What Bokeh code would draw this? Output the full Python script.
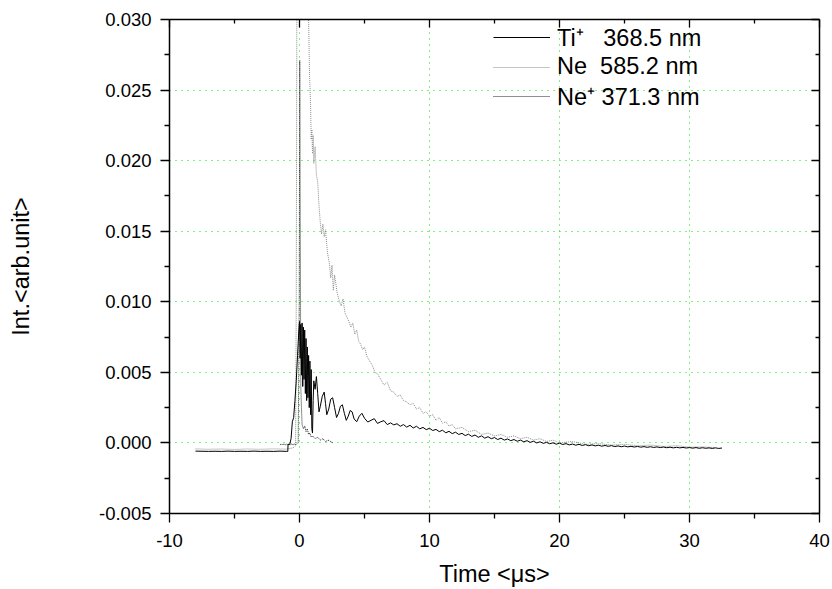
from bokeh.plotting import figure
from bokeh.models import (Range1d, FixedTicker, NumeralTickFormatter, LinearAxis,
                          CustomJSTickFormatter, Legend, LegendItem)
from bokeh.embed import file_html
from bokeh.resources import INLINE

# ---------------- data ----------------
x_ticks = [-10, 0, 10, 20, 30, 40]
x_minor = [-5, 5, 15, 25, 35]
y_ticks = [-0.005, 0.0, 0.005, 0.010, 0.015, 0.020, 0.025, 0.030]
y_minor = [-0.0025, 0.0025, 0.0075, 0.0125, 0.0175, 0.0225, 0.0275]

x_label = "Time <μs>"
y_label = "Int.<arb.unit>"
series_labels = ["Ti⁺\u00a0\u00a0\u00a0368.5 nm", "Ne\u00a0\u00a0585.2 nm", "Ne⁺\u00a0371.3 nm"]

ti_t = [-8.0, -7.0, -6.5, -6.0, -5.5, -5.0, -4.5, -4.0, -3.5, -3.0, -2.5, -2.0, -1.5, -1.0,
        -0.9, -0.88, -0.75, -0.65, -0.55, -0.45, -0.35, -0.25, -0.15, -0.05, 0.0, 0.05,
        0.1, 0.15, 0.2, 0.25, 0.3, 0.35, 0.4, 0.45, 0.5, 0.55, 0.6, 0.65, 0.7, 0.75, 0.8,
        0.85, 0.9, 0.95, 1.0, 1.05, 1.1, 1.2, 1.3, 1.4, 1.5, 1.6, 1.75, 1.9, 2.0, 2.1,
        2.25, 2.4, 2.55, 2.7, 2.85, 3.0, 3.15, 3.3, 3.45, 3.6, 3.75, 3.9, 4.05, 4.2, 4.4,
        4.6, 4.8,
        5.0, 5.25, 5.5, 5.75, 6.0, 6.25, 6.5, 6.75, 7.0, 7.25, 7.5, 7.75, 8.0, 8.25, 8.5,
        8.75, 9.0, 9.25, 9.5, 9.75, 10.0, 10.25, 10.5, 10.75, 11.0, 11.25, 11.5, 11.75,
        12.0, 12.25, 12.5, 12.75, 13.0, 13.25, 13.5, 13.75, 14.0, 14.25, 14.5, 14.75,
        15.0, 15.25, 15.5, 15.75, 16.0, 16.25, 16.5, 16.75, 17.0, 17.25, 17.5, 17.75,
        18.0, 18.25, 18.5, 18.75, 19.0, 19.25, 19.5, 19.75, 20.0, 20.25, 20.5, 20.75,
        21.0, 21.25, 21.5, 21.75, 22.0, 22.25, 22.5, 22.75, 23.0, 23.25, 23.5, 23.75,
        24.0, 24.25, 24.5, 24.75, 25.0, 25.25, 25.5, 25.75, 26.0, 26.25, 26.5, 26.75,
        27.0, 27.25, 27.5, 27.75, 28.0, 28.25, 28.5, 28.75, 29.0, 29.25, 29.5, 29.75,
        30.0, 30.25, 30.5, 30.75, 31.0, 31.25, 31.5, 31.75, 32.0, 32.25, 32.5]
ti_y = [-0.00058, -0.0006, -0.00059, -0.0006, -0.00058, -0.0006, -0.00059, -0.0006,
        -0.00058, -0.0006, -0.00059, -0.0006, -0.00058, -0.0006,
        -0.0006, -0.0001, -0.0001, 0.0003, 0.0015, 0.0018, 0.0030, 0.0044, 0.0062, 0.0080,
        0.0086, 0.0060, 0.0084, 0.0048, 0.0085, 0.0040, 0.0082, 0.0045, 0.0080, 0.0035,
        0.0074, 0.0030, 0.0068, 0.0032, 0.0062, 0.0025, 0.0058, 0.0020, 0.0052, 0.0010,
        0.0007, 0.0030, 0.0044, 0.0038, 0.0047, 0.0035, 0.0022, 0.0026, 0.0033, 0.0036,
        0.0028, 0.0020, 0.0024, 0.0031, 0.0032, 0.0025, 0.0018, 0.0021, 0.0026, 0.0027,
        0.0021, 0.0016, 0.0019, 0.0023, 0.0022, 0.0017, 0.0015, 0.0019, 0.0021,
        0.00175, 0.00148, 0.00160, 0.00172, 0.00138, 0.00150, 0.00158, 0.00130, 0.00142,
        0.00128, 0.00136, 0.00118, 0.00130, 0.00112, 0.00125, 0.00106, 0.00118, 0.00100,
        0.00110, 0.00094, 0.00104, 0.00088, 0.00096, 0.00080, 0.00090, 0.00072, 0.00082,
        0.00066, 0.00076, 0.00060, 0.00068, 0.00052, 0.00062, 0.00046, 0.00056, 0.00040,
        0.00050, 0.00034, 0.00044, 0.00030, 0.00038, 0.00024, 0.00034, 0.00020, 0.00028,
        0.00016, 0.00024, 0.00012, 0.00020, 0.00008, 0.00016, 0.00004, 0.00012, 0.00000,
        0.00008, -0.00003, 0.00004, -0.00006, 0.00001, -0.00009, -0.00002, -0.00011,
        -0.00005, -0.00014, -0.00008, -0.00016, -0.00010, -0.00018, -0.00012, -0.00020,
        -0.00014, -0.00021, -0.00016, -0.00023, -0.00018, -0.00024, -0.00019, -0.00026,
        -0.00021, -0.00027, -0.00022, -0.00028, -0.00024, -0.00029, -0.00025, -0.00030,
        -0.00026, -0.00031, -0.00027, -0.00032, -0.00028, -0.00033, -0.00029, -0.00034,
        -0.00030, -0.00035, -0.00031, -0.00035, -0.00032, -0.00036, -0.00033, -0.00037,
        -0.00033, -0.00038, -0.00034, -0.00038, -0.00035, -0.00039, -0.00035, -0.00039,
        -0.00036]

ne_t = [-8.0, -7.0, -6.0, -5.0, -4.0, -3.0, -2.0, -1.0, -0.5, -0.3, -0.25, -0.2, 0.0, 0.3,
        0.6, 0.7, 0.77, 0.85, 0.9, 0.95, 1.0, 1.05, 1.1, 1.2, 1.3, 1.4, 1.5, 1.6, 1.7, 1.8,
        1.9, 2.0, 2.15, 2.3, 2.4, 2.5, 2.6, 2.7, 2.9, 3.05, 3.2, 3.35, 3.5, 3.65, 3.8, 3.95,
        4.1, 4.25, 4.4, 4.55, 4.7, 4.85, 5.0, 5.2, 5.4, 5.6, 5.8, 6.0, 6.25, 6.5, 6.75, 7.0,
        7.25, 7.5, 7.75, 8.0, 8.25, 8.5, 8.75, 9.0, 9.25, 9.5, 9.75, 10.0, 10.25, 10.5,
        10.75, 11.0, 11.25, 11.5, 11.75, 12.0, 12.5, 13.0, 13.5, 14.0, 14.5, 15.0, 15.5,
        16.0, 16.5, 17.0, 17.5, 18.0, 18.5, 19.0, 19.5, 20.0, 21.0, 22.0, 23.0, 24.0, 25.0,
        26.0, 27.0, 28.0, 29.0, 30.0, 31.0, 32.0]
ne_y = [-0.00042, -0.00045, -0.00043, -0.00046, -0.00043, -0.00045, -0.00042, -0.00044,
        -0.00035, -0.00020, 0.0100, 0.0320, 0.0360, 0.0380, 0.0330, 0.0300, 0.0262, 0.0240,
        0.0215, 0.0222, 0.0205, 0.0218, 0.0198, 0.0210, 0.0190, 0.0185, 0.0168, 0.0156,
        0.0148, 0.0155, 0.0146, 0.0151, 0.0135, 0.0127, 0.0117, 0.0126, 0.0108, 0.0119,
        0.0106, 0.0101, 0.0097, 0.0102, 0.0092, 0.0089, 0.0086, 0.0082, 0.0085, 0.0077,
        0.0080, 0.0072, 0.0070, 0.0066, 0.0068, 0.0061, 0.0058, 0.0055, 0.0050, 0.0049,
        0.0045, 0.0041, 0.0043, 0.0037, 0.0036, 0.0033, 0.0034, 0.0030, 0.0029, 0.0027,
        0.0028, 0.0024, 0.0025, 0.0021, 0.0022, 0.0019, 0.0020, 0.0016, 0.0018, 0.0014,
        0.0015, 0.0012, 0.0013, 0.0010, 0.0011, 0.0008, 0.0009, 0.0006, 0.0007, 0.0005,
        0.0006, 0.0004, 0.0005, 0.0003, 0.0004, 0.0002, 0.0003, 0.0001, 0.0002, 0.0000,
        0.0001, -0.0001, -0.00005, -0.00015, -0.0001, -0.0002, -0.00015, -0.00025, -0.0002,
        -0.0003, -0.00028, -0.00033]

nep_t = [-1.5, -1.4, -1.3, -1.2, -1.1, -1.0, -0.9, -0.8, -0.7, -0.6, -0.5, -0.4, -0.3,
         -0.2, -0.1, -0.02, 0.02, 0.06, 0.1, 0.15, 0.2, 0.3, 0.4, 0.5, 0.6, 0.7, 0.8, 0.9,
         1.0, 1.2, 1.4, 1.6, 1.8, 2.0, 2.2, 2.4, 2.6]
nep_y = [-0.00015, -0.00006, -0.00016, -0.00005, -0.00015, -0.00006, -0.00016, -0.00005,
         -0.00015, -0.00006, -0.00016, -0.00005, -0.00015, -0.00006, 0.0000, 0.0100,
         0.0271, 0.0150, 0.0040, 0.0025, 0.0013, 0.0010, 0.0012, 0.0008, 0.0010, 0.0006,
         0.0007, 0.0004, 0.0005, 0.0003, 0.0004, 0.0002, 0.0003, 0.0001, 0.0002, 0.0001,
         0.0000]

# ---------------- styling ----------------
FONT = "Liberation Sans"
GRID_COLOR = "#00e000"

p = figure(width=832, height=589, output_backend="svg", toolbar_location=None,
           x_range=Range1d(-10, 40), y_range=Range1d(-0.005, 0.030),
           min_border_left=169, min_border_right=13, min_border_top=19,
           min_border_bottom=73)
p.outline_line_color = None
p.background_fill_color = "white"
p.border_fill_color = "white"

xticker = FixedTicker(ticks=x_ticks, minor_ticks=x_minor)
yticker = FixedTicker(ticks=y_ticks, minor_ticks=y_minor)

for g, t in ((p.xgrid, xticker), (p.ygrid, yticker)):
    g.ticker = t
    g.grid_line_color = GRID_COLOR
    g.grid_line_dash = "1 5"
    g.grid_line_width = 1

def style_main(ax, ticker):
    ax.ticker = ticker
    ax.axis_line_width = 1.5
    ax.axis_line_color = "black"
    ax.major_tick_in = 0
    ax.major_tick_out = 9
    ax.minor_tick_in = 0
    ax.minor_tick_out = 5
    ax.major_tick_line_width = 1.3
    ax.minor_tick_line_width = 1.3
    ax.major_label_text_font = FONT
    ax.major_label_text_font_size = "18.5px"
    ax.major_label_text_color = "black"
    ax.axis_label_text_font = FONT
    ax.axis_label_text_font_size = "23.5px"
    ax.axis_label_text_font_style = "normal"
    ax.axis_label_text_color = "black"

xa = p.xaxis[0]
style_main(xa, xticker)
xa.formatter = NumeralTickFormatter(format="0")
xa.axis_label = x_label
xa.major_label_standoff = 11
xa.axis_label_standoff = 11

ya = p.yaxis[0]
style_main(ya, yticker)
ya.formatter = NumeralTickFormatter(format="0.000")
ya.axis_label = y_label
ya.major_label_standoff = 9
ya.axis_label_standoff = 62

blank = "return ''"
top = LinearAxis(ticker=xticker, formatter=CustomJSTickFormatter(code=blank),
                 major_tick_in=8, major_tick_out=0, minor_tick_in=4, minor_tick_out=0,
                 axis_line_width=1.5, major_label_standoff=0,
                 major_tick_line_width=1.3, minor_tick_line_width=1.3,
                 major_label_text_font_size="1px")
right = LinearAxis(ticker=yticker, formatter=CustomJSTickFormatter(code=blank),
                   major_tick_in=8, major_tick_out=0, minor_tick_in=4, minor_tick_out=0,
                   axis_line_width=1.5, major_label_standoff=0,
                   major_tick_line_width=1.3, minor_tick_line_width=1.3,
                   major_label_text_font_size="1px")
p.add_layout(top, "above")
p.add_layout(right, "right")

r_ne = p.line(ne_t, ne_y, line_color="#8c8c8c", line_width=1, line_dash="1 1")
r_nep = p.line(nep_t, nep_y, line_color="#202020", line_width=1, line_dash="1 1")
r_ti = p.line(ti_t, ti_y, line_color="black", line_width=1)

legend = Legend(items=[LegendItem(label=series_labels[0], renderers=[r_ti]),
                       LegendItem(label=series_labels[1], renderers=[r_ne]),
                       LegendItem(label=series_labels[2], renderers=[r_nep])],
                location=(324, 401), border_line_color=None, background_fill_alpha=0,
                padding=0, margin=0, spacing=-2, glyph_width=57, glyph_height=26,
                label_height=26, label_standoff=7, label_text_font=FONT,
                label_text_font_size="23.5px", label_text_color="black")
p.add_layout(legend)

open("out.html", "w").write(file_html(p, INLINE))
